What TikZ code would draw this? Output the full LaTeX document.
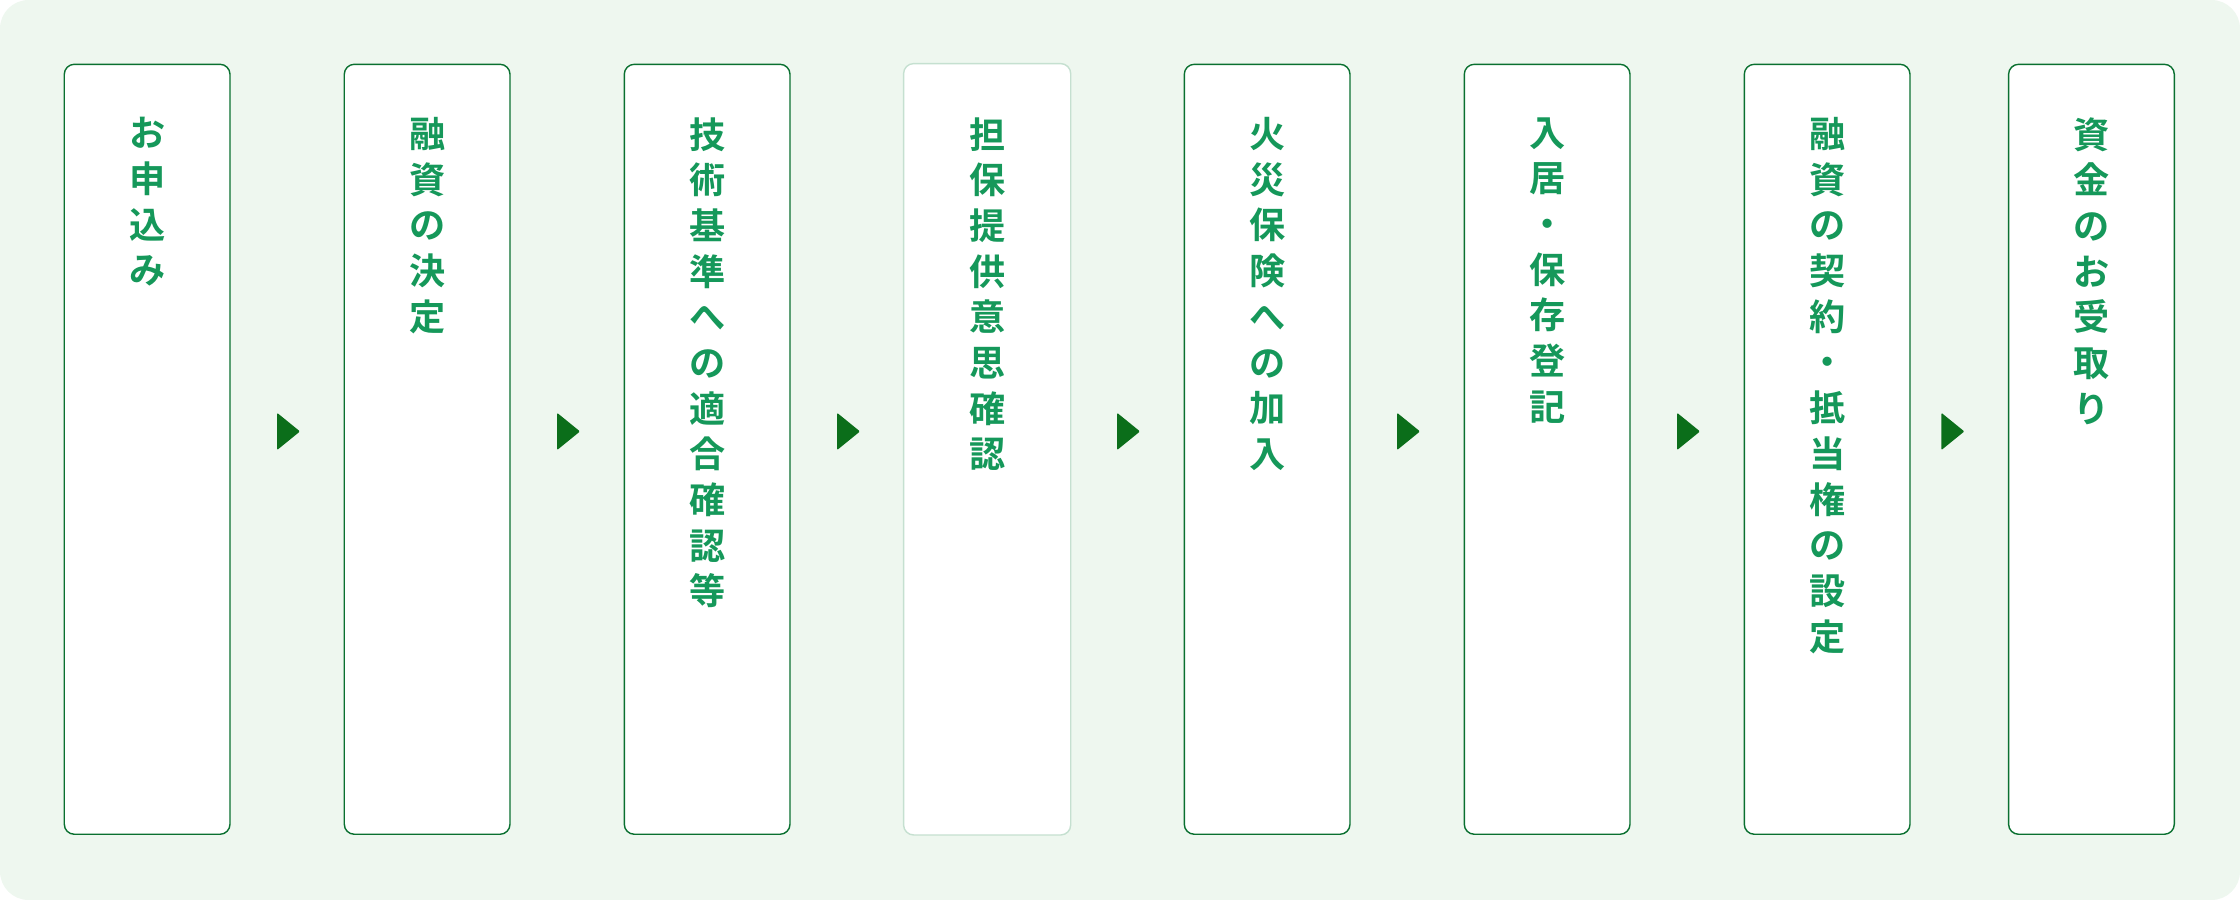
\documentclass[tikz,border=0pt]{standalone}
\usepackage{fontspec}
\newfontfamily\jpfont{Noto Sans CJK JP Bold}
\usetikzlibrary{positioning}
\definecolor{bggreen}{HTML}{EEF7EF}
\definecolor{boxline}{HTML}{0A7030}
\definecolor{boxpale}{HTML}{C5E0D0}
\definecolor{textgreen}{HTML}{15985A}
\definecolor{tipgreen}{HTML}{0B6E1A}
\begin{document}
\begin{tikzpicture}[x=0.05cm,y=-0.05cm,
    stepbox/.style={draw=boxline,line width=1.4pt,fill=white,rounded corners=0.35cm,minimum width=5.8cm,minimum height=26.95cm,inner sep=0pt},
    label/.style={anchor=north,align=center,font=\jpfont\fontsize{36}{45.5}\selectfont,text=textgreen,inner sep=0pt}
  ]
    % background
    \fill[bggreen,rounded corners=1cm] (0,0) rectangle (1568,630);
    % steps
    \foreach \i/\x/\txt in {0/103/{お\\申\\込\\み},1/299/{融\\資\\の\\決\\定},2/495/{技\\術\\基\\準\\へ\\の\\適\\合\\確\\認\\等},3/691/{担\\保\\提\\供\\意\\思\\確\\認},4/887/{火\\災\\保\\険\\へ\\の\\加\\入},5/1083/{入\\居\\・\\保\\存\\登\\記},6/1279/{融\\資\\の\\契\\約\\・\\抵\\当\\権\\の\\設\\定},7/1464/{資\\金\\の\\お\\受\\取\\り}}{
      \node[stepbox] (s\i) at (\x,314.5) {};
      \node[label] (t\i) at (\x,82) {\txt};
    }
    \draw[boxpale,line width=1.4pt,fill=white,rounded corners=0.35cm] (s3.south west) rectangle (s3.north east);
    \node[label] at (t3.north) {担\\保\\提\\供\\意\\思\\確\\認};
    % arrow tips between steps
    \foreach \x in {194,390,586,782,978,1174,1359}{
      \fill[tipgreen,rounded corners=1pt] (\x,289) -- (\x+16,302) -- (\x,315) -- cycle;
    }
\end{tikzpicture}
\end{document}
